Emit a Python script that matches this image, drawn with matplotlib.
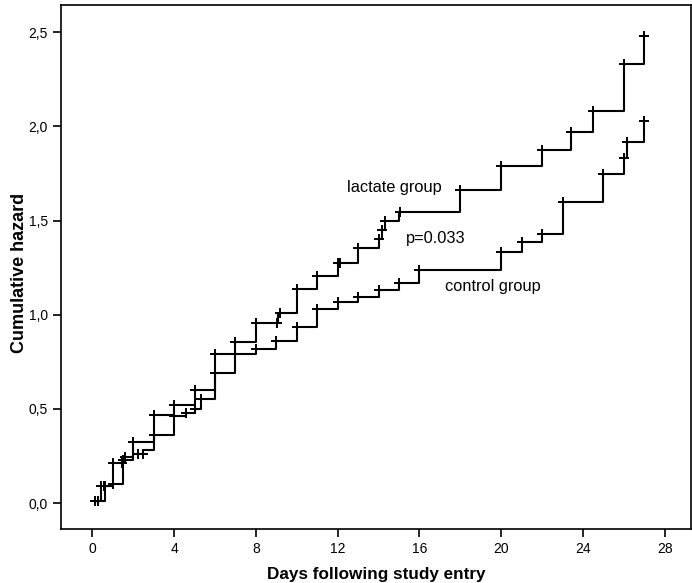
import matplotlib
matplotlib.use("Agg")
import matplotlib.pyplot as plt
import numpy as np

plt.rcParams['font.family'] = ['Liberation Sans', 'DejaVu Sans']

# step times (days) and cumulative hazard after each step
lactate_t = [0.15, 0.45, 1.0, 1.5, 2.0, 3.0, 4.0, 5.0, 6.0, 7.0, 8.0, 9.1,
             10.0, 11.0, 12.0, 13.0, 14.0, 14.15, 14.3, 15.0, 18.0, 20.0,
             22.0, 23.4, 24.5, 26.0, 27.0]
lactate_h = [0.01, 0.09, 0.21, 0.245, 0.326, 0.467, 0.52, 0.60, 0.79, 0.857,
             0.954, 1.01, 1.135, 1.207, 1.276, 1.357, 1.40, 1.45, 1.497,
             1.544, 1.66, 1.79, 1.875, 1.97, 2.08, 2.33, 2.48]

control_t = [0.3, 0.6, 1.0, 1.5, 2.0, 2.5, 3.0, 4.0, 4.6, 5.0, 5.3, 6.0, 7.0,
             8.0, 9.0, 10.0, 11.0, 12.0, 13.0, 14.0, 15.0, 16.0, 20.0, 21.0,
             22.0, 23.0, 25.0, 26.0, 26.15, 27.0]
control_h = [0.01, 0.09, 0.10, 0.23, 0.26, 0.28, 0.36, 0.46, 0.48, 0.50, 0.55,
             0.69, 0.79, 0.82, 0.862, 0.936, 1.028, 1.069, 1.096, 1.131,
             1.167, 1.24, 1.335, 1.388, 1.43, 1.60, 1.75, 1.83, 1.92, 2.03]

# censored observations (days)
lactate_cens = [0.15, 0.3, 0.45, 0.55, 1.0, 1.45, 1.6, 2.0, 3.0, 4.0, 5.0,
                6.0, 7.0, 8.0, 9.05, 9.2, 10.0, 11.0, 12.0, 12.1, 13.0, 14.03,
                14.15, 14.3, 15.04, 18.0, 20.0, 22.0, 23.4, 24.5, 26.0, 27.0]
control_cens = [0.3, 0.6, 1.0, 1.5, 2.25, 2.46, 3.0, 4.0, 4.6, 5.0, 5.3,
                6.0, 7.0, 8.0, 9.0, 10.0, 11.0, 12.0, 13.0, 14.0, 15.0, 16.0,
                20.0, 21.0, 22.0, 23.0, 25.0, 26.0, 26.15, 27.0]

xticks = [0, 4, 8, 12, 16, 20, 24, 28]
yticks = [0.0, 0.5, 1.0, 1.5, 2.0, 2.5]


def step_value(t, h, x):
    idx = np.searchsorted(t, x, side='right') - 1
    return np.array(h)[np.clip(idx, 0, len(h) - 1)]


fig = plt.figure(figsize=(6.92, 5.83), dpi=100)
ax = fig.add_axes([61 / 692, 54 / 583, 630 / 692, 524 / 583])

for t, h, cens in [(lactate_t, lactate_h, lactate_cens),
                   (control_t, control_h, control_cens)]:
    ax.step([t[0]] + t, [0.0] + h, where='post', color='black', lw=1.5)
    cens = np.array(cens)
    ax.plot(cens, step_value(t, h, cens), linestyle='none', marker='+',
            color='black', markersize=7.5, markeredgewidth=1.4)

ax.text(12.45, 1.678, 'lactate group', fontsize=11.8, va='center')
ax.text(15.33, 1.405, 'p=0.033', fontsize=11.8, va='center')
ax.text(17.24, 1.149, 'control group', fontsize=11.8, va='center')

ax.set_xlim(-1.53, 29.28)
ax.set_ylim(-0.138, 2.645)
ax.set_xticks(xticks)
ax.set_xticklabels([str(v) for v in xticks])
ax.set_yticks(yticks)
ax.set_yticklabels([('%.1f' % v).replace('.', ',') for v in yticks])
ax.tick_params(direction='out', length=6, width=1.2, labelsize=10)
for s in ax.spines.values():
    s.set_linewidth(1.2)

ax.set_xlabel('Days following study entry', fontsize=12.3, fontweight='bold',
              labelpad=8)
ax.set_ylabel('Cumulative hazard', fontsize=13, fontweight='bold')
ax.yaxis.set_label_coords(-0.053, 0.489)

fig.savefig('out.png', dpi=100)
